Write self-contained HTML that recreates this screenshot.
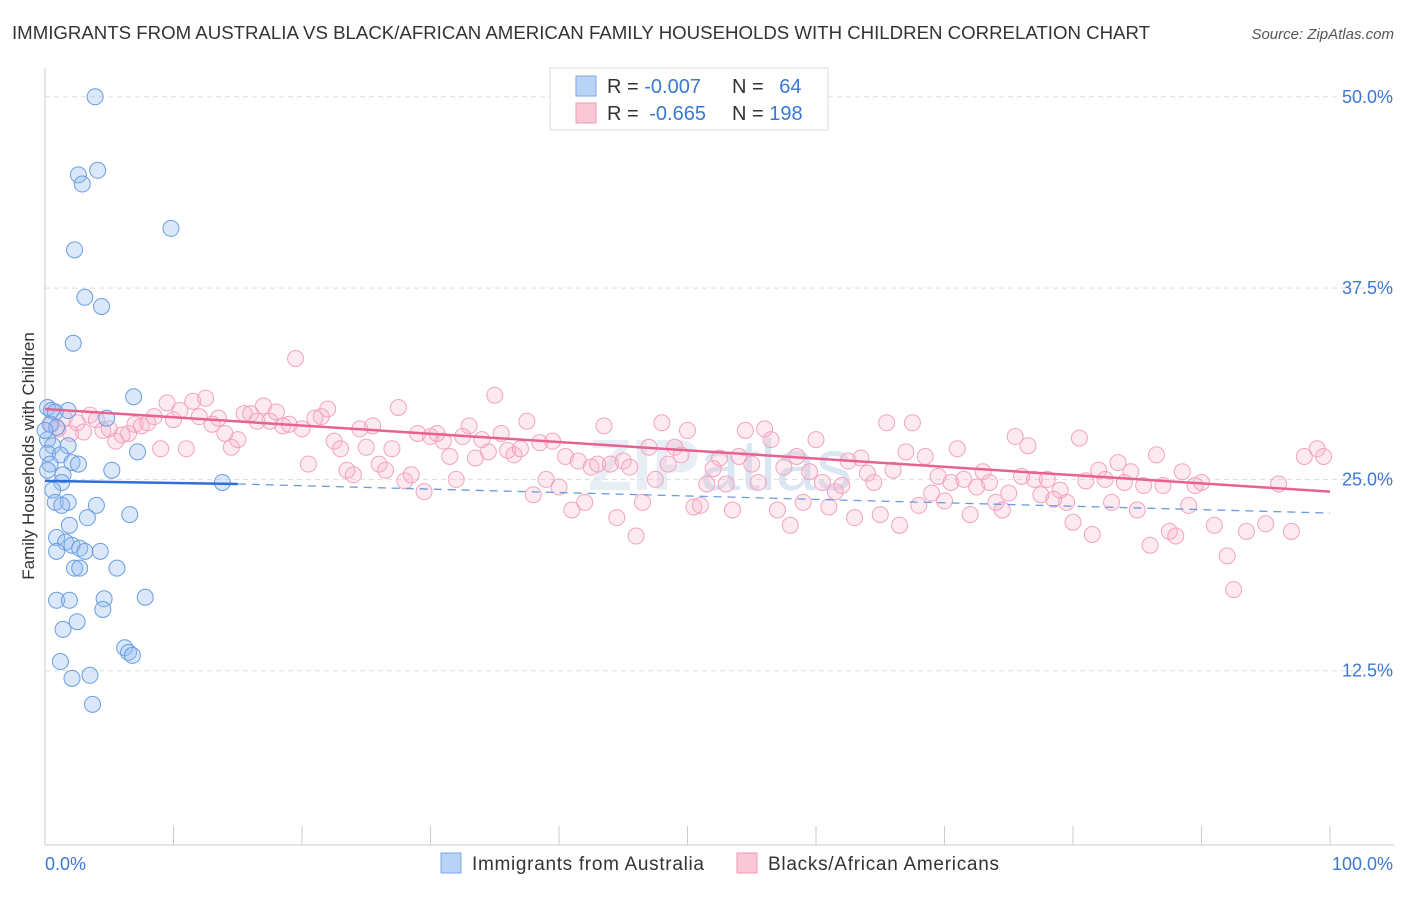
<!DOCTYPE html>
<html><head><meta charset="utf-8">
<style>
body{margin:0;background:#fff;font-family:"Liberation Sans",sans-serif;}
svg text{font-family:"Liberation Sans",sans-serif;}
</style></head>
<body>
<svg id="chart" width="1406" height="892" viewBox="0 0 1406 892" xmlns="http://www.w3.org/2000/svg">
<text x="12" y="39" font-size="18" fill="#333" textLength="1138" lengthAdjust="spacingAndGlyphs">IMMIGRANTS FROM AUSTRALIA VS BLACK/AFRICAN AMERICAN FAMILY HOUSEHOLDS WITH CHILDREN CORRELATION CHART</text>
<text x="1394" y="39" font-size="15" fill="#555" text-anchor="end" font-style="italic">Source: ZipAtlas.com</text>
<text x="720" y="490" font-size="72" fill="#e8eef6" text-anchor="middle" font-weight="bold">ZIP<tspan fill="#dbe6f3" font-weight="normal">atlas</tspan></text>
<g id="grid"></g>
<g id="axes"></g>
<g id="pink"></g>
<g id="blue"></g>
<g id="trends"></g>
<text transform="translate(34,456) rotate(-90)" font-size="17" fill="#333" text-anchor="middle">Family Households with Children</text>
<g>
<rect x="550" y="68" width="278" height="62" fill="#fff" stroke="#ddd"/>
<rect x="576" y="76" width="20" height="20" fill="#b9d3f5" stroke="#7aa7e6"/>
<rect x="576" y="103" width="20" height="20" fill="#f9c7d6" stroke="#ef98b4"/>
<text x="607" y="93" font-size="20" fill="#333">R = <tspan fill="#3b78d4">-0.007</tspan></text>
<text x="732" y="93" font-size="20" fill="#333">N = <tspan fill="#3b78d4" dx="10">64</tspan></text>
<text x="607" y="120" font-size="20" fill="#333">R = <tspan fill="#3b78d4" dx="5">-0.665</tspan></text>
<text x="732" y="120" font-size="20" fill="#333">N = <tspan fill="#3b78d4">198</tspan></text>
</g>
<g>
<rect x="441" y="853" width="20" height="20" fill="#b9d3f5" stroke="#7aa7e6"/>
<text x="472" y="870" font-size="19" fill="#333" textLength="232">Immigrants from Australia</text>
<rect x="737" y="853" width="20" height="20" fill="#f9c7d6" stroke="#ef98b4"/>
<text x="768" y="870" font-size="19" fill="#333" textLength="231">Blacks/African Americans</text>
</g>
</svg>
<script>
const yTicks=[12.5,25,37.5,50];
const yTickLabels=["12.5%","25.0%","37.5%","50.0%"];
const xTickLabels=["0.0%","100.0%"];
const blueX=[3.9,4.1,2.6,2.9,9.8,2.3,3.1,4.4,2.2,6.9,0.2,0.5,0.8,1.8,4.8,0.4,0.9,0.2,0.6,1.8,7.2,0.2,1.2,2.1,2.6,0.4,5.2,1.4,1.3,13.8,0.6,0.8,1.8,4.0,1.3,3.3,6.6,1.9,0.9,1.6,2.1,2.7,3.1,4.3,0.9,2.3,2.7,5.6,0.9,1.9,4.6,7.8,4.5,2.5,1.4,6.2,6.5,6.8,1.2,3.5,2.1,3.7,0.0,0.2];
const blueY=[50.0,45.2,44.9,44.3,41.4,40.0,36.9,36.3,33.9,30.4,29.7,29.5,29.4,29.5,29.0,28.6,28.4,27.6,27.2,27.2,26.8,26.7,26.6,26.1,26.0,26.0,25.6,25.3,24.8,24.8,24.3,23.5,23.5,23.3,23.3,22.5,22.7,22.0,21.2,20.9,20.7,20.5,20.3,20.3,20.3,19.2,19.2,19.2,17.1,17.1,17.2,17.3,16.5,15.7,15.2,14.0,13.7,13.5,13.1,12.2,12.0,10.3,28.2,25.6];
const pinkPts=[[0.5,28.6],[1,28.3],[1.5,29.0],[2,28.0],[2.5,28.7],[3,28.1],[3.5,29.2],[4,28.9],[4.5,28.2],[5,28.3],
[5.5,27.5],[6,27.9],[6.5,28.0],[7,28.6],[7.5,28.5],[8,28.7],[8.5,29.1],[9,27.0],[9.5,30.0],[10,28.9],
[10.5,29.5],[11,27.0],[11.5,30.1],[12,29.1],[12.5,30.3],[13,28.6],[13.5,29.0],[14,28.0],[14.5,27.1],[15,27.6],
[15.5,29.3],[16,29.3],[16.5,28.8],[17,29.8],[17.5,28.8],[18,29.4],[18.5,28.5],[19,28.6],[19.5,32.9],[20,28.3],[20.5,26.0],[21,29.0],[21.5,29.1],[22,29.6],[22.5,27.5],
[23,27.0],[23.5,25.6],[24,25.3],[24.5,28.3],[25,27.1],[25.5,28.5],[26,26.0],[26.5,25.6],[27,27.0],[27.5,29.7],[28,24.9],[28.5,25.3],[29,28.0],[29.5,24.2],[30,27.8],
[30.5,28.0],[31,27.5],[31.5,26.5],[32,25.0],[32.5,27.8],[33,28.5],[33.5,26.4],[34,27.6],[34.5,26.8],[35,30.5],
[35.5,28.0],[36,26.9],[36.5,26.6],[37,27.0],[37.5,28.8],[38,24.0],[38.5,27.4],[39,25.0],[39.5,27.5],[40,24.5],
[40.5,26.5],[41,23.0],[41.5,26.2],[42,23.5],[42.5,25.8],[43,26.0],[43.5,28.5],[44,26.0],[44.5,22.5],[45,26.2],
[45.5,25.8],[46,21.3],[46.5,23.5],[47,27.1],[47.5,25.0],[48,28.7],[48.5,26.0],[49,27.1],[49.5,26.6],[50,28.2],
[50.5,23.2],[51,23.3],[51.5,24.7],[52,25.7],[52.5,26.4],[53,24.7],[53.5,23.0],[54,26.5],[54.5,28.2],[55,26.0],
[55.5,24.8],[56,28.3],[56.5,27.6],[57,23.0],[57.5,25.8],[58,22.0],[58.5,26.5],[59,23.5],[59.5,25.5],[60,27.6],
[60.5,24.8],[61,23.2],[61.5,24.2],[62,24.6],[62.5,26.2],[63,22.5],[63.5,26.4],[64,25.4],[64.5,24.8],[65,22.7],
[65.5,28.7],[66,25.6],[66.5,22.0],[67,26.8],[67.5,28.7],[68,23.3],[68.5,26.5],[69,24.1],[69.5,25.2],[70,23.6],
[70.5,24.8],[71,27.0],[71.5,25.0],[72,22.7],[72.5,24.5],[73,25.5],[73.5,24.8],[74,23.5],[74.5,23.0],[75,24.1],
[75.5,27.8],[76,25.2],[76.5,27.2],[77,25.0],[77.5,24.0],[78,25.0],[78.5,23.7],[79,24.3],[79.5,23.5],[80,22.2],
[80.5,27.7],[81,24.9],[81.5,21.4],[82,25.6],[82.5,25.0],[83,23.5],[83.5,26.1],[84,24.8],[84.5,25.5],[85,23.0],
[85.5,24.6],[86,20.7],[86.5,26.6],[87,24.6],[87.5,21.6],[88,21.3],[88.5,25.5],[89,23.3],[89.5,24.6],[90,24.8],
[91,22.0],[92,20.0],[92.5,17.8],[93.5,21.6],[95,22.1],[96,24.7],[97,21.6],[98,26.5],[99,27.0],[99.5,26.5]];
const blueTrend=[[0,24.9],[15,24.7],[100,22.8]];
const pinkTrend=[[0,29.6],[100,24.2]];

const NS="http://www.w3.org/2000/svg";
const X0=45,X1=1330,YB=862,PPU=191.3/12.5;
const sx=v=>X0+(X1-X0)*v/100;
const sy=v=>YB-v*PPU;
function mk(tag,attrs,parent){const e=document.createElementNS(NS,tag);for(const k in attrs)e.setAttribute(k,attrs[k]);document.getElementById(parent).appendChild(e);return e;}

yTicks.forEach((t,i)=>{
  const l=mk('line',{x1:45,x2:1394,y1:sy(t),y2:sy(t),stroke:'#ddd','stroke-dasharray':'5,4'},'grid');
  
  
  const tx=mk('text',{x:1393,y:sy(t)+6,'font-size':18,fill:'#3b78d4','text-anchor':'end'},'grid');
  tx.textContent=yTickLabels[i];
  
  
});
const ax=mk('line',{x1:45,x2:45,y1:68,y2:845,stroke:'#ccc'},'axes');


const bx=mk('line',{x1:45,x2:1394,y1:845,y2:845,stroke:'#ccc'},'axes');


for(let i=1;i<=10;i++){
  const t=mk('line',{x1:sx(i*10),x2:sx(i*10),y1:826,y2:845,stroke:'#ccc'},'axes');
  
  
}
const xl0=mk('text',{x:45,y:870,'font-size':18,fill:'#3b78d4'},'axes');xl0.textContent=xTickLabels[0];


const xl1=mk('text',{x:1393,y:870,'font-size':18,fill:'#3b78d4','text-anchor':'end'},'axes');xl1.textContent=xTickLabels[1];



pinkPts.forEach(p=>{
  const c=mk('circle',{cx:sx(p[0]),cy:sy(p[1]),r:8,fill:'rgba(246,170,196,0.25)',stroke:'#f2a3bf','stroke-width':1},'pink');
  
  
});
blueX.forEach((v,i)=>{
  const c=mk('circle',{cx:sx(v),cy:sy(blueY[i]),r:8,fill:'rgba(150,190,240,0.35)',stroke:'#6a9de0','stroke-width':1},'blue');
  
  
});
const bt1=mk('line',{x1:sx(blueTrend[0][0]),y1:sy(blueTrend[0][1]),x2:sx(blueTrend[1][0]),y2:sy(blueTrend[1][1]),stroke:'#2f6fd6','stroke-width':2.5},'trends');


const bt2=mk('line',{x1:sx(blueTrend[1][0]),y1:sy(blueTrend[1][1]),x2:sx(blueTrend[2][0]),y2:sy(blueTrend[2][1]),stroke:'#6a9be0','stroke-width':1.3,'stroke-dasharray':'8,6'},'trends');


const pt=mk('line',{x1:sx(pinkTrend[0][0]),y1:sy(pinkTrend[0][1]),x2:sx(pinkTrend[1][0]),y2:sy(pinkTrend[1][1]),stroke:'#e8628f','stroke-width':2.5},'trends');


</script>
</body></html>
